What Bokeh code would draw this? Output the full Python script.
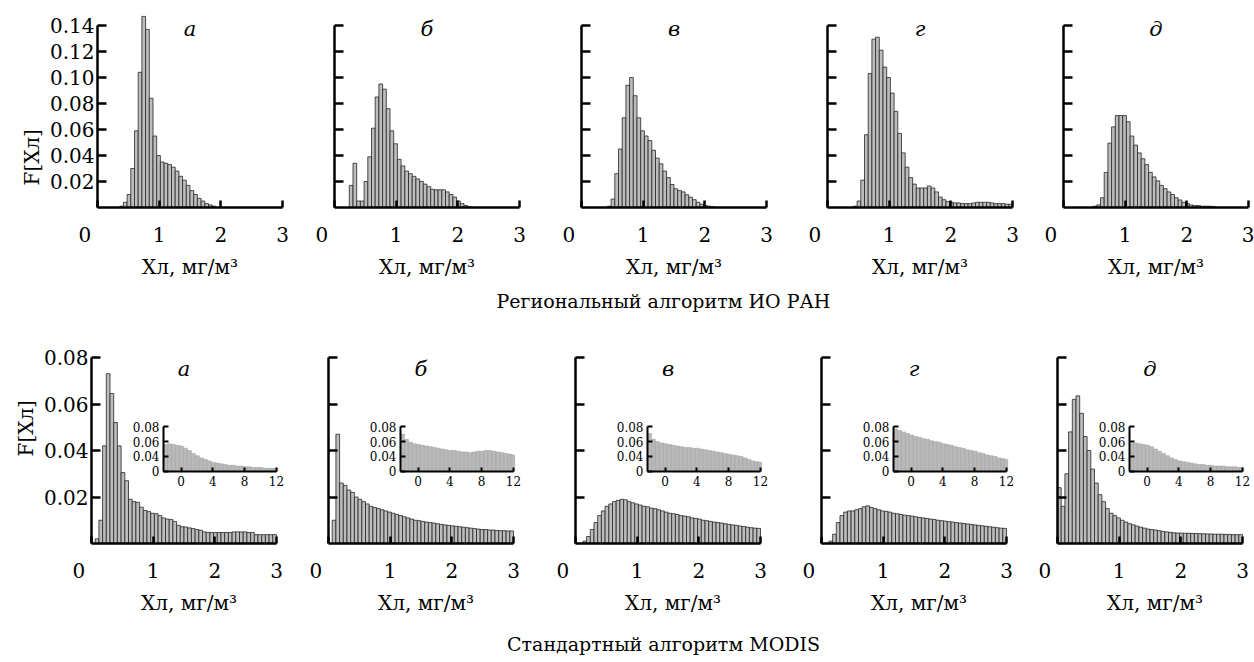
from bokeh.plotting import figure
from bokeh.models import Range1d, LinearAxis, FixedTicker, Label, Title
from bokeh.layouts import row, column
from bokeh.embed import file_html
from bokeh.resources import INLINE

FONT = "DejaVu Serif"

# ---------------- data ----------------
chl_bins = [0.03, 0.09, 0.15, 0.21, 0.27, 0.33, 0.39, 0.45, 0.51, 0.57,
            0.63, 0.69, 0.75, 0.81, 0.87, 0.93, 0.99, 1.05, 1.11, 1.17,
            1.23, 1.29, 1.35, 1.41, 1.47, 1.53, 1.59, 1.65, 1.71, 1.77,
            1.83, 1.89, 1.95, 2.01, 2.07, 2.13, 2.19, 2.25, 2.31, 2.37,
            2.43, 2.49, 2.55, 2.61, 2.67, 2.73, 2.79, 2.85, 2.91, 2.97]
bin_width = 0.06

# Regional algorithm (IO RAS)
reg_a = [0, 0, 0, 0, 0, 0, 0.001, 0.004, 0.010, 0.030,
         0.059, 0.104, 0.147, 0.137, 0.084, 0.055, 0.040, 0.035, 0.034, 0.033,
         0.031, 0.028, 0.024, 0.021, 0.017, 0.013, 0.010, 0.007, 0.005, 0.003,
         0.002, 0.001, 0, 0, 0, 0, 0, 0, 0, 0,
         0, 0, 0, 0, 0, 0, 0, 0, 0, 0]
reg_b = [0, 0, 0, 0, 0.017, 0.034, 0.005, 0.005, 0.020, 0.039,
         0.061, 0.085, 0.095, 0.091, 0.076, 0.059, 0.049, 0.037, 0.032, 0.028,
         0.026, 0.024, 0.022, 0.020, 0.018, 0.016, 0.014, 0.0136, 0.0136, 0.0136,
         0.012, 0.010, 0.008, 0.005, 0.003, 0.0015, 0.0005, 0, 0, 0,
         0, 0, 0, 0, 0, 0, 0, 0, 0, 0]
reg_c = [0, 0, 0, 0, 0, 0, 0, 0.001, 0.0065, 0.026,
         0.045, 0.069, 0.094, 0.100, 0.086, 0.069, 0.059, 0.055, 0.0515, 0.044,
         0.038, 0.0336, 0.028, 0.023, 0.0177, 0.0144, 0.013, 0.012, 0.0098, 0.0079,
         0.006, 0.004, 0.0025, 0.0015, 0.001, 0.0005, 0, 0, 0, 0,
         0, 0, 0, 0, 0, 0, 0, 0, 0, 0]
reg_d = [0, 0, 0, 0, 0, 0, 0, 0.001, 0.005, 0.021,
         0.056, 0.103, 0.1295, 0.131, 0.121, 0.108, 0.100, 0.088, 0.074, 0.057,
         0.042, 0.031, 0.023, 0.018, 0.015, 0.015, 0.015, 0.0165, 0.015, 0.012,
         0.008, 0.006, 0.0045, 0.004, 0.0035, 0.0035, 0.003, 0.003, 0.003, 0.0035,
         0.004, 0.004, 0.004, 0.004, 0.0035, 0.003, 0.003, 0.003, 0.0025, 0.0025]
reg_e = [0, 0, 0, 0, 0, 0, 0, 0, 0.001, 0.002,
         0.0075, 0.027, 0.0495, 0.062, 0.0707, 0.0707, 0.0707, 0.066, 0.055, 0.048,
         0.042, 0.0375, 0.033, 0.027, 0.0235, 0.0205, 0.017, 0.0145, 0.012, 0.010,
         0.0075, 0.0058, 0.004, 0.003, 0.002, 0.0015, 0.0015, 0.001, 0.001, 0.001,
         0.0008, 0, 0, 0, 0, 0, 0, 0, 0, 0]

# Standard MODIS algorithm
mod_a = [0, 0.002, 0.010, 0.042, 0.073, 0.0645, 0.052, 0.042, 0.0305, 0.027,
         0.019, 0.018, 0.0177, 0.0156, 0.0142, 0.0137, 0.013, 0.0128, 0.012, 0.011,
         0.0105, 0.0103, 0.0095, 0.0078, 0.0072, 0.0071, 0.0067, 0.0064, 0.006, 0.0057,
         0.005, 0.0048, 0.0047, 0.0047, 0.0047, 0.0047, 0.0047, 0.0047, 0.005, 0.005,
         0.005, 0.005, 0.0047, 0.0047, 0.0038, 0.0038, 0.0038, 0.0038, 0.0038, 0.0038]
mod_b = [0, 0.010, 0.047, 0.026, 0.025, 0.023, 0.022, 0.020, 0.019, 0.018,
         0.017, 0.016, 0.0155, 0.015, 0.0145, 0.014, 0.0135, 0.013, 0.0125, 0.012,
         0.0115, 0.011, 0.0105, 0.010, 0.0098, 0.0095, 0.0092, 0.009, 0.0088, 0.0085,
         0.0082, 0.008, 0.0078, 0.0076, 0.0074, 0.0072, 0.007, 0.0068, 0.0066, 0.0064,
         0.0062, 0.006, 0.006, 0.0058, 0.0058, 0.0056, 0.0055, 0.0055, 0.0054, 0.0054]
mod_c = [0, 0, 0.001, 0.003, 0.006, 0.009, 0.012, 0.014, 0.016, 0.017,
         0.018, 0.0185, 0.019, 0.0188, 0.018, 0.0175, 0.017, 0.0165, 0.016, 0.0158,
         0.0152, 0.015, 0.0145, 0.014, 0.0135, 0.013, 0.0128, 0.0125, 0.012, 0.0118,
         0.0115, 0.011, 0.0108, 0.0105, 0.010, 0.0098, 0.0095, 0.0092, 0.009, 0.0088,
         0.0085, 0.0082, 0.008, 0.0078, 0.0075, 0.0073, 0.007, 0.0068, 0.0066, 0.0065]
mod_d = [0, 0, 0.001, 0.004, 0.009, 0.012, 0.0135, 0.014, 0.014, 0.0145,
         0.015, 0.0158, 0.0162, 0.0155, 0.015, 0.0145, 0.014, 0.0138, 0.0135, 0.013,
         0.0128, 0.0125, 0.0122, 0.012, 0.0118, 0.0115, 0.0112, 0.011, 0.0108, 0.0105,
         0.0103, 0.010, 0.0098, 0.0096, 0.0094, 0.0092, 0.009, 0.0088, 0.0086, 0.0084,
         0.0082, 0.008, 0.0078, 0.0076, 0.0074, 0.0072, 0.007, 0.0068, 0.0066, 0.0065]
mod_e = [0.024, 0.016, 0.030, 0.048, 0.062, 0.0635, 0.056, 0.046, 0.040, 0.032,
         0.026, 0.021, 0.018, 0.015, 0.013, 0.012, 0.011, 0.010, 0.0092, 0.0085,
         0.008, 0.0075, 0.007, 0.0066, 0.0062, 0.006, 0.0058, 0.0055, 0.0052, 0.005,
         0.0048, 0.0046, 0.0045, 0.0045, 0.0044, 0.0044, 0.0043, 0.0043, 0.0042, 0.0042,
         0.0041, 0.0041, 0.004, 0.004, 0.004, 0.0039, 0.0039, 0.0038, 0.0038, 0.0038]

# insets (MODIS, wide range 0..12)
inset_bins = [-1.95, -1.45, -0.95, -0.45, 0.05, 0.55, 1.05, 1.55, 2.05, 2.55,
              3.05, 3.55, 4.05, 4.55, 5.05, 5.55, 6.05, 6.55, 7.05, 7.55,
              8.05, 8.55, 9.05, 9.55, 10.05, 10.55, 11.05, 11.55, 11.9]
inset_width = 0.5
ins_a = [0.056, 0.057, 0.056, 0.055, 0.054, 0.051, 0.048, 0.044, 0.041, 0.038,
         0.036, 0.034, 0.032, 0.031, 0.030, 0.029, 0.028, 0.028, 0.027, 0.027,
         0.026, 0.026, 0.025, 0.025, 0.025, 0.024, 0.024, 0.024, 0.024]
ins_b = [0.070, 0.063, 0.059, 0.057, 0.056, 0.055, 0.054, 0.053, 0.052, 0.051,
         0.050, 0.049, 0.048, 0.048, 0.047, 0.046, 0.046, 0.045, 0.046, 0.047,
         0.047, 0.048, 0.048, 0.047, 0.046, 0.045, 0.044, 0.043, 0.042]
ins_c = [0.071, 0.063, 0.060, 0.058, 0.057, 0.056, 0.055, 0.054, 0.053, 0.052,
         0.052, 0.051, 0.051, 0.050, 0.049, 0.048, 0.047, 0.046, 0.045, 0.044,
         0.043, 0.042, 0.041, 0.040, 0.038, 0.036, 0.034, 0.033, 0.032]
ins_d = [0.077, 0.075, 0.073, 0.071, 0.069, 0.067, 0.066, 0.064, 0.063, 0.061,
         0.060, 0.059, 0.057, 0.056, 0.055, 0.053, 0.052, 0.051, 0.049, 0.048,
         0.047, 0.045, 0.044, 0.042, 0.041, 0.040, 0.038, 0.037, 0.036]
ins_e = [0.057, 0.058, 0.057, 0.056, 0.055, 0.053, 0.050, 0.047, 0.044, 0.041,
         0.038, 0.036, 0.034, 0.033, 0.032, 0.031, 0.030, 0.029, 0.029, 0.028,
         0.028, 0.027, 0.027, 0.027, 0.026, 0.026, 0.026, 0.025, 0.025]

panel_letters = ["а", "б", "в", "г", "д"]
x_ticks = [0, 1, 2, 3]
x_tick_labels = ["0\u00a0\u00a0\u00a0\u00a0", "1", "2", "3"]
top_y_ticks = [0.02, 0.04, 0.06, 0.08, 0.10, 0.12, 0.14]
top_y_labels = ["0.02", "0.04", "0.06", "0.08", "0.10", "0.12", "0.14"]
bot_y_ticks = [0.02, 0.04, 0.06, 0.08]
bot_y_labels = ["0.02", "0.04", "0.06", "0.08"]
inset_x_ticks = [0, 4, 8, 12]
inset_x_labels = ["0", "4", "8", "12"]
inset_y_ticks = [0.02, 0.04, 0.06, 0.08]
inset_y_labels = ["0", "0.04", "0.06", "0.08"]
x_label = "Хл, мг/м³"
y_label = "F[Хл]"
row_titles = ["Региональный алгоритм ИО РАН", "Стандартный алгоритм MODIS"]

# ---------------- style / geometry ----------------
W = 1254
AXIS_W = 185          # pixel length of the 0..3 x axis
BAR_FILL = "#bdbdbd"
BAR_LINE = "#262626"
INSET_FILL = "#b9b9b9"
INSET_LINE = "#a4a4a4"


def style_axis(ax, size="20px", lw=2.5, tick_in=8):
    ax.axis_line_width = lw
    ax.axis_line_color = "black"
    ax.major_tick_line_width = lw
    ax.major_tick_in = tick_in
    ax.major_tick_out = 0
    ax.minor_tick_in = 0
    ax.minor_tick_out = 0
    ax.major_label_text_font = FONT
    ax.major_label_text_font_size = size
    ax.major_label_text_color = "black"
    ax.axis_label_text_font = FONT
    ax.axis_label_text_font_size = "20px"
    ax.axis_label_text_font_style = "normal"
    ax.axis_label_text_color = "black"


def make_panel(vals, letter, left, right, top, frame_h, bottom, y_max, y_top,
               y_ticks, y_labels, show_y, letter_dy, ylab_offset=None, inset=None,
               pad_right=0):
    ppu = AXIS_W / 3.0
    p = figure(width=left + AXIS_W + pad_right + right, height=top + frame_h + bottom,
               x_range=Range1d(0, 3 + pad_right / ppu), y_range=Range1d(0, y_max),
               x_axis_type=None, y_axis_type=None,
               toolbar_location=None, output_backend="svg",
               min_border_left=left, min_border_right=right,
               min_border_top=top, min_border_bottom=bottom)
    p.outline_line_color = None
    p.background_fill_color = "white"
    p.border_fill_color = "white"

    xs = [b for b, v in zip(chl_bins, vals) if v > 0]
    ys = [v for v in vals if v > 0]
    p.vbar(x=xs, top=ys, bottom=0, width=bin_width,
           fill_color=BAR_FILL, line_color=BAR_LINE, line_width=0.8)

    xax = LinearAxis(ticker=FixedTicker(ticks=x_ticks), bounds=(0, 3),
                     axis_label=x_label,
                     major_label_overrides={t: s for t, s in zip(x_ticks, x_tick_labels)})
    style_axis(xax, tick_in=7)
    xax.major_label_standoff = 15
    xax.axis_label_standoff = 5
    p.add_layout(xax, "below")

    if show_y:
        overrides = {t: s for t, s in zip(y_ticks, y_labels)}
    else:
        overrides = {t: "" for t in y_ticks}
    yax = LinearAxis(ticker=FixedTicker(ticks=y_ticks), bounds=(0, y_top),
                     major_label_overrides=overrides)
    style_axis(yax, tick_in=9)
    yax.major_label_standoff = 3
    p.add_layout(yax, "left")

    if ylab_offset is not None:
        p.add_layout(Title(text=y_label, align="left", offset=ylab_offset,
                           text_font=FONT, text_font_size="20px",
                           text_font_style="normal", text_color="black",
                           standoff=6), "left")

    p.add_layout(Label(x=1.5, y=y_top, y_offset=letter_dy, text=letter,
                       text_align="center", text_baseline="alphabetic",
                       text_font=FONT, text_font_size="21px",
                       text_font_style="italic", text_color="black"))

    if inset is not None:
        in_left_px = 72
        in_w_px = AXIS_W - in_left_px
        ix0, ix1 = -2.2, 12.0
        kx = in_w_px / (ix1 - ix0)
        in_bottom_px = 73
        ky = 45 / 0.06
        iy0 = 0.02
        p.extra_x_ranges = {"ix": Range1d(ix0 - in_left_px / kx, ix1 + pad_right / kx)}
        p.extra_y_ranges = {"iy": Range1d(iy0 - in_bottom_px / ky,
                                          iy0 + (frame_h - in_bottom_px) / ky)}
        p.vbar(x=inset_bins, top=inset, bottom=iy0, width=inset_width,
               x_range_name="ix", y_range_name="iy",
               fill_color=INSET_FILL, line_color=INSET_LINE, line_width=0.6)
        iax = LinearAxis(x_range_name="ix", y_range_name="iy", fixed_location=iy0,
                         bounds=(ix0, ix1), ticker=FixedTicker(ticks=inset_x_ticks),
                         major_label_overrides={t: s for t, s in zip(inset_x_ticks, inset_x_labels)})
        style_axis(iax, size="12px", lw=2, tick_in=4)
        iax.major_label_standoff = 5
        p.add_layout(iax, "below")
        jax = LinearAxis(x_range_name="ix", y_range_name="iy", fixed_location=ix0,
                         bounds=(0.02, 0.08), ticker=FixedTicker(ticks=inset_y_ticks),
                         major_label_overrides={t: s for t, s in zip(inset_y_ticks, inset_y_labels)})
        style_axis(jax, size="12px", lw=2, tick_in=5)
        jax.major_label_standoff = 4
        p.add_layout(jax, "left")
    return p


reg_vals = [reg_a, reg_b, reg_c, reg_d, reg_e]
mod_vals = [mod_a, mod_b, mod_c, mod_d, mod_e]
ins_vals = [ins_a, ins_b, ins_c, ins_d, ins_e]

top_lefts = [97, 42, 52, 51, 41]
top_rights = [10, 10, 10, 10, 6]
bot_lefts = [91, 42, 52, 51, 41]
bot_rights = [0, 0, 0, 0, 2]
BOT_PAD = 10

top_figs = []
for i in range(5):
    top_figs.append(make_panel(reg_vals[i], panel_letters[i], top_lefts[i], top_rights[i],
                               12, 195, 75, 0.15, 0.14, top_y_ticks, top_y_labels,
                               i == 0, -3, ylab_offset=22 if i == 0 else None))
bot_figs = []
for i in range(5):
    bot_figs.append(make_panel(mod_vals[i], panel_letters[i], bot_lefts[i], bot_rights[i],
                               39, 188, 72, 0.08, 0.08, bot_y_ticks, bot_y_labels,
                               i == 0, -11, ylab_offset=87 if i == 0 else None,
                               inset=ins_vals[i], pad_right=BOT_PAD))


def title_strip(text, h, y):
    s = figure(width=W, height=h, x_range=Range1d(0, W), y_range=Range1d(0, h),
               x_axis_type=None, y_axis_type=None, toolbar_location=None,
               output_backend="svg", min_border=0)
    s.outline_line_color = None
    s.add_layout(Label(x=663, y=y, text=text, text_align="center", text_baseline="middle",
                       text_font=FONT, text_font_size="19px", text_color="black"))
    return s


strip1 = title_strip(row_titles[0], 36, 18)
strip2 = title_strip(row_titles[1], 45, 19)

p = column(row(*top_figs), strip1, row(*bot_figs), strip2)
open("out.html", "w").write(file_html(p, INLINE))
